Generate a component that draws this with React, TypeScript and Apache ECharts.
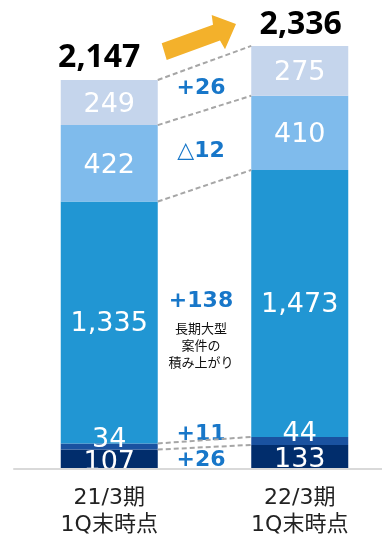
import React, { useEffect, useRef } from "react";
import * as echarts from "echarts";

const categories = ["21/3期\n1Q末時点", "22/3期\n1Q末時点"];
const segBottom = [107, 133];
const segSecond = [34, 44];
const segMiddle = [1335, 1473];
const segFourth = [422, 410];
const segTop = [249, 275];
const totals = [2147, 2336];
const diffLabels = ["+26", "+11", "+138", "△12", "+26"];
const noteLines = ["長期大型", "案件の", "積み上がり"];

const LATIN = "'DejaVu Sans', 'Noto Sans CJK JP', sans-serif";
const BAR_W = 97;

export default function App() {
  const ref = useRef<HTMLDivElement>(null);
  useEffect(() => {
    document.body.style.margin = "0";
    const chart = echarts.init(ref.current!, null, { renderer: "svg" });
    const layers = [
      { data: segBottom, color: "#012d6c", offset: [0, 1] },
      { data: segSecond, color: "#1a52a0", offset: [0, -9] },
      { data: segMiddle, color: "#2196d3", offset: [0, -1] },
      { data: segFourth, color: "#7fbbec", offset: [0, 0] },
      { data: segTop, color: "#c5d5ec", offset: [0, 0] },
    ];
    const cum: number[][] = [[], []];
    [0, 1].forEach((i) => {
      let s = 0;
      layers.forEach((l) => {
        s += l.data[i];
        cum[i].push(s);
      });
    });
    const boundaries = cum[0].map((v, k) => [0, v, cum[1][k]]);

    const series: any[] = layers.map((l) => ({
      type: "bar",
      stack: "total",
      barWidth: BAR_W,
      data: l.data,
      itemStyle: { color: l.color },
      label: {
        show: true,
        position: "inside",
        offset: l.offset,
        color: "#ffffff",
        fontSize: 27,
        fontFamily: LATIN,
        formatter: (p: any) => Number(p.value).toLocaleString("en-US"),
      },
    }));
    series.push({
      type: "custom",
      data: boundaries,
      encode: { x: 0, y: 1 },
      z: 5,
      renderItem: (params: any, api: any) => {
        const a = api.coord([0, api.value(1)]);
        const b = api.coord([1, api.value(2)]);
        return {
          type: "line",
          shape: { x1: a[0] + BAR_W / 2, y1: a[1], x2: b[0] - BAR_W / 2, y2: b[1] },
          style: { stroke: "#a6a6a6", lineWidth: 2, lineDash: [5, 3] },
        };
      },
    });

    chart.setOption({
      animation: false,
      grid: { left: 14, width: 381, top: 16, bottom: 66, outerBoundsMode: "none", containLabel: false },
      xAxis: {
        type: "category",
        data: categories,
        axisLine: { lineStyle: { color: "#d9d9d9", width: 2 } },
        axisTick: { show: false },
        axisLabel: {
          fontSize: 22,
          lineHeight: 27,
          color: "#222222",
          fontFamily: LATIN,
          margin: 14,
        },
        z: 10,
      },
      yAxis: { type: "value", min: 0, max: 2500, show: false, splitLine: { show: false } },
      series,
    });

    const totalOffsets = [
      [-10, -25],
      [1, -24],
    ];
    const totalTexts = totals.map((t, i) => {
      const p = chart.convertToPixel({ xAxisIndex: 0, yAxisIndex: 0 } as any, [i, cum[i][4]]) as number[];
      return {
        type: "text",
        x: p[0] + totalOffsets[i][0],
        y: p[1] + totalOffsets[i][1],
        style: {
          text: t.toLocaleString("en-US"),
          fill: "#000000",
          font: "bold 32px 'Noto Sans', sans-serif",
          textAlign: "center",
          textVerticalAlign: "middle",
        },
      };
    });
    const diffPos = [86, 432, 299, 149, 458];
    const diffTexts = diffLabels.map((d, k) => ({
      type: "text",
      x: 201,
      y: diffPos[k],
      style: {
        text: d,
        fill: "#1877c9",
        font: "bold 22px 'DejaVu Sans', 'Noto Sans CJK JP', sans-serif",
        textAlign: "center",
        textVerticalAlign: "middle",
      },
    }));
    const noteTexts = noteLines.map((n, k) => ({
      type: "text",
      x: 201,
      y: 327 + k * 17,
      style: {
        text: n,
        fill: "#111111",
        font: "13px 'Noto Sans CJK JP', sans-serif",
        textAlign: "center",
        textVerticalAlign: "middle",
      },
    }));
    const arrow = {
      type: "polygon",
      shape: {
        points: [
          [166.7, 60],
          [161.7, 43.3],
          [213, 24.7],
          [211.7, 15],
          [236, 24],
          [225, 49.3],
          [220, 40.5],
        ],
      },
      style: { fill: "#f3b12b" },
    };
    chart.setOption({ graphic: [arrow, ...totalTexts, ...diffTexts, ...noteTexts] });
    return () => chart.dispose();
  }, []);
  return (
    <div style={{ position: "fixed", left: 0, top: 0, width: 382, height: 535, overflow: "hidden" }}>
      <div ref={ref} style={{ width: 400, height: 535 }} />
    </div>
  );
}
